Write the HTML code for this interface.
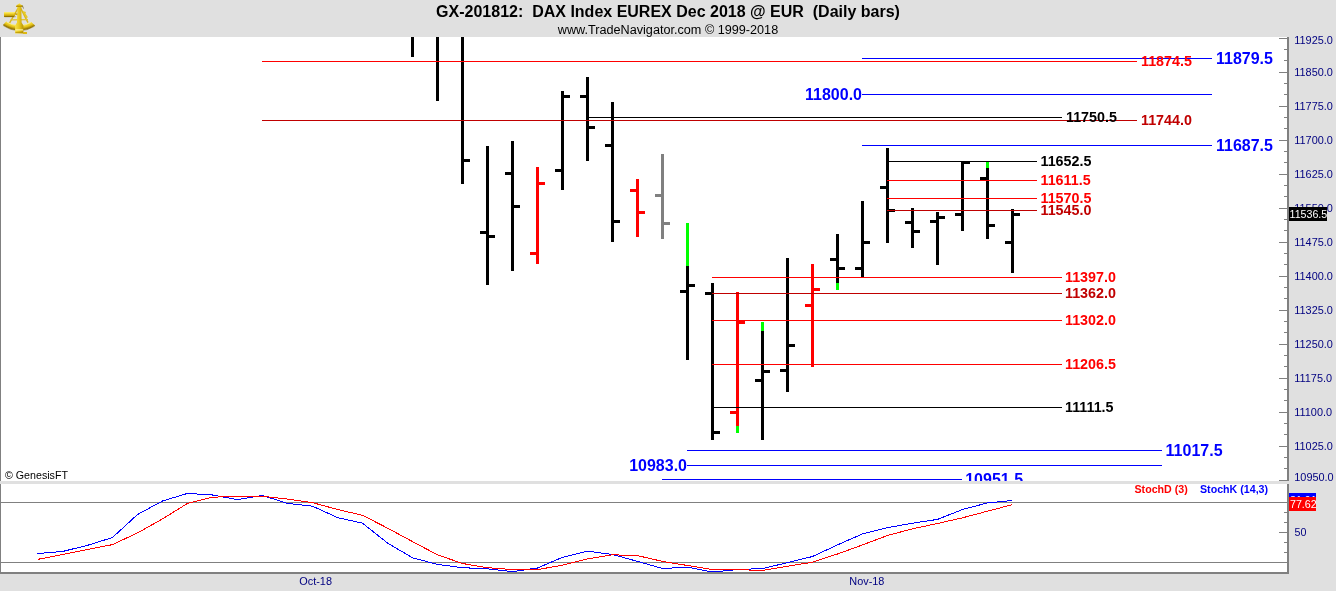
<!DOCTYPE html>
<html><head><meta charset="utf-8"><title>GX-201812: DAX Index EUREX Dec 2018 @ EUR (Daily bars)</title>
<style>
html,body{margin:0;padding:0;background:#e0e0e0;}
body{width:1336px;height:591px;overflow:hidden;}
svg{display:block;font-family:"Liberation Sans",Arial,sans-serif;}
rect{shape-rendering:crispEdges;}
</style></head><body>
<svg width="1336" height="591" viewBox="0 0 1336 591">
<defs><clipPath id="cp"><rect x="0" y="37" width="1287" height="444"/></clipPath></defs>
<rect x="0" y="0" width="1336" height="591" fill="#e0e0e0"/>
<rect x="0" y="37" width="1287" height="444" fill="#ffffff"/>
<rect x="0" y="484" width="1287" height="88" fill="#ffffff"/>
<rect x="0" y="37" width="1" height="444" fill="#808080"/>
<rect x="0" y="484" width="1" height="90" fill="#808080"/>
<rect x="1287" y="37" width="2" height="444" fill="#808080"/>
<rect x="1287" y="484" width="2" height="90" fill="#808080"/>
<rect x="0" y="572" width="1289" height="2" fill="#808080"/>
<g id="paxis">
<rect x="1279" y="38" width="8" height="1" fill="#808080"/>
<rect x="1284" y="49" width="3" height="1" fill="#808080"/>
<rect x="1284" y="60" width="3" height="1" fill="#808080"/>
<rect x="1279" y="72" width="8" height="1" fill="#808080"/>
<rect x="1284" y="83" width="3" height="1" fill="#808080"/>
<rect x="1284" y="94" width="3" height="1" fill="#808080"/>
<rect x="1279" y="106" width="8" height="1" fill="#808080"/>
<rect x="1284" y="117" width="3" height="1" fill="#808080"/>
<rect x="1284" y="128" width="3" height="1" fill="#808080"/>
<rect x="1279" y="140" width="8" height="1" fill="#808080"/>
<rect x="1284" y="151" width="3" height="1" fill="#808080"/>
<rect x="1284" y="162" width="3" height="1" fill="#808080"/>
<rect x="1279" y="174" width="8" height="1" fill="#808080"/>
<rect x="1284" y="185" width="3" height="1" fill="#808080"/>
<rect x="1284" y="196" width="3" height="1" fill="#808080"/>
<rect x="1279" y="208" width="8" height="1" fill="#808080"/>
<rect x="1284" y="219" width="3" height="1" fill="#808080"/>
<rect x="1284" y="230" width="3" height="1" fill="#808080"/>
<rect x="1279" y="242" width="8" height="1" fill="#808080"/>
<rect x="1284" y="253" width="3" height="1" fill="#808080"/>
<rect x="1284" y="264" width="3" height="1" fill="#808080"/>
<rect x="1279" y="276" width="8" height="1" fill="#808080"/>
<rect x="1284" y="287" width="3" height="1" fill="#808080"/>
<rect x="1284" y="298" width="3" height="1" fill="#808080"/>
<rect x="1279" y="310" width="8" height="1" fill="#808080"/>
<rect x="1284" y="321" width="3" height="1" fill="#808080"/>
<rect x="1284" y="332" width="3" height="1" fill="#808080"/>
<rect x="1279" y="344" width="8" height="1" fill="#808080"/>
<rect x="1284" y="355" width="3" height="1" fill="#808080"/>
<rect x="1284" y="366" width="3" height="1" fill="#808080"/>
<rect x="1279" y="378" width="8" height="1" fill="#808080"/>
<rect x="1284" y="389" width="3" height="1" fill="#808080"/>
<rect x="1284" y="400" width="3" height="1" fill="#808080"/>
<rect x="1279" y="412" width="8" height="1" fill="#808080"/>
<rect x="1284" y="423" width="3" height="1" fill="#808080"/>
<rect x="1284" y="434" width="3" height="1" fill="#808080"/>
<rect x="1279" y="446" width="8" height="1" fill="#808080"/>
<rect x="1284" y="457" width="3" height="1" fill="#808080"/>
<rect x="1284" y="468" width="3" height="1" fill="#808080"/>
<rect x="1279" y="480" width="8" height="1" fill="#808080"/>
</g>
<g font-size="10.9" fill="#000080">
<text x="1294.3" y="44.4">11925.0</text>
<text x="1294.3" y="76.4">11850.0</text>
<text x="1294.3" y="110.4">11775.0</text>
<text x="1294.3" y="144.4">11700.0</text>
<text x="1294.3" y="178.4">11625.0</text>
<text x="1294.3" y="212.4">11550.0</text>
<text x="1294.3" y="246.4">11475.0</text>
<text x="1294.3" y="280.4">11400.0</text>
<text x="1294.3" y="314.4">11325.0</text>
<text x="1294.3" y="348.4">11250.0</text>
<text x="1294.3" y="382.4">11175.0</text>
<text x="1294.3" y="416.4">11100.0</text>
<text x="1294.3" y="450.4">11025.0</text>
<text x="1294.3" y="480.6">10950.0</text>
</g>
<g id="bars">
<rect x="411" y="37" width="3" height="20" fill="#000000"/>
<rect x="436" y="37" width="3" height="64" fill="#000000"/>
<rect x="461" y="37" width="3" height="147" fill="#000000"/>
<rect x="464" y="159" width="6" height="3" fill="#000000"/>
<rect x="486" y="146" width="3" height="139" fill="#000000"/>
<rect x="480" y="231" width="6" height="3" fill="#000000"/>
<rect x="489" y="235" width="6" height="3" fill="#000000"/>
<rect x="511" y="141" width="3" height="130" fill="#000000"/>
<rect x="505" y="172" width="6" height="3" fill="#000000"/>
<rect x="514" y="205" width="6" height="3" fill="#000000"/>
<rect x="536" y="167" width="3" height="97" fill="#ff0000"/>
<rect x="530" y="252" width="6" height="3" fill="#ff0000"/>
<rect x="539" y="182" width="6" height="3" fill="#ff0000"/>
<rect x="561" y="91" width="3" height="99" fill="#000000"/>
<rect x="555" y="169" width="6" height="3" fill="#000000"/>
<rect x="564" y="95" width="6" height="3" fill="#000000"/>
<rect x="586" y="77" width="3" height="84" fill="#000000"/>
<rect x="580" y="95" width="6" height="3" fill="#000000"/>
<rect x="589" y="126" width="6" height="3" fill="#000000"/>
<rect x="611" y="102" width="3" height="140" fill="#000000"/>
<rect x="605" y="144" width="6" height="3" fill="#000000"/>
<rect x="614" y="220" width="6" height="3" fill="#000000"/>
<rect x="636" y="179" width="3" height="58" fill="#ff0000"/>
<rect x="630" y="189" width="6" height="3" fill="#ff0000"/>
<rect x="639" y="211" width="6" height="3" fill="#ff0000"/>
<rect x="661" y="154" width="3" height="85" fill="#808080"/>
<rect x="655" y="194" width="6" height="3" fill="#808080"/>
<rect x="664" y="222" width="6" height="3" fill="#808080"/>
<rect x="686" y="223" width="3" height="43" fill="#00ff00"/>
<rect x="686" y="266" width="3" height="94" fill="#000000"/>
<rect x="680" y="290" width="6" height="3" fill="#000000"/>
<rect x="689" y="284" width="6" height="3" fill="#000000"/>
<rect x="711" y="283" width="3" height="157" fill="#000000"/>
<rect x="705" y="292" width="6" height="3" fill="#000000"/>
<rect x="714" y="431" width="6" height="3" fill="#000000"/>
<rect x="736" y="292" width="3" height="134" fill="#ff0000"/>
<rect x="736" y="426" width="3" height="7" fill="#00ff00"/>
<rect x="730" y="411" width="6" height="3" fill="#ff0000"/>
<rect x="739" y="321" width="6" height="3" fill="#ff0000"/>
<rect x="761" y="322" width="3" height="9" fill="#00ff00"/>
<rect x="761" y="331" width="3" height="109" fill="#000000"/>
<rect x="755" y="379" width="6" height="3" fill="#000000"/>
<rect x="764" y="370" width="6" height="3" fill="#000000"/>
<rect x="786" y="258" width="3" height="134" fill="#000000"/>
<rect x="780" y="369" width="6" height="3" fill="#000000"/>
<rect x="789" y="344" width="6" height="3" fill="#000000"/>
<rect x="811" y="264" width="3" height="103" fill="#ff0000"/>
<rect x="805" y="304" width="6" height="3" fill="#ff0000"/>
<rect x="814" y="288" width="6" height="3" fill="#ff0000"/>
<rect x="836" y="234" width="3" height="49" fill="#000000"/>
<rect x="836" y="283" width="3" height="7" fill="#00ff00"/>
<rect x="830" y="258" width="6" height="3" fill="#000000"/>
<rect x="839" y="267" width="6" height="3" fill="#000000"/>
<rect x="861" y="201" width="3" height="76" fill="#000000"/>
<rect x="855" y="267" width="6" height="3" fill="#000000"/>
<rect x="864" y="241" width="6" height="3" fill="#000000"/>
<rect x="886" y="148" width="3" height="95" fill="#000000"/>
<rect x="880" y="186" width="6" height="3" fill="#000000"/>
<rect x="889" y="209" width="6" height="3" fill="#000000"/>
<rect x="911" y="208" width="3" height="40" fill="#000000"/>
<rect x="905" y="221" width="6" height="3" fill="#000000"/>
<rect x="914" y="230" width="6" height="3" fill="#000000"/>
<rect x="936" y="212" width="3" height="53" fill="#000000"/>
<rect x="930" y="220" width="6" height="3" fill="#000000"/>
<rect x="939" y="216" width="6" height="3" fill="#000000"/>
<rect x="961" y="162" width="3" height="69" fill="#000000"/>
<rect x="955" y="213" width="6" height="3" fill="#000000"/>
<rect x="964" y="161" width="6" height="3" fill="#000000"/>
<rect x="986" y="162" width="3" height="6" fill="#00ff00"/>
<rect x="986" y="168" width="3" height="71" fill="#000000"/>
<rect x="980" y="177" width="6" height="3" fill="#000000"/>
<rect x="989" y="224" width="6" height="3" fill="#000000"/>
<rect x="1011" y="209" width="3" height="64" fill="#000000"/>
<rect x="1005" y="241" width="6" height="3" fill="#000000"/>
<rect x="1014" y="213" width="6" height="3" fill="#000000"/>
</g>
<g id="hlines">
<rect x="262" y="61" width="875" height="1" fill="#ff0000"/>
<rect x="262" y="120" width="875" height="1" fill="#c00000"/>
<rect x="588" y="117" width="474" height="1" fill="#000000"/>
<rect x="862" y="58" width="350" height="1" fill="#0000ff"/>
<rect x="862" y="94" width="350" height="1" fill="#0000ff"/>
<rect x="862" y="145" width="350" height="1" fill="#0000ff"/>
<rect x="888" y="161" width="149" height="1" fill="#000000"/>
<rect x="887" y="180" width="150" height="1" fill="#ff0000"/>
<rect x="887" y="198" width="150" height="1" fill="#ff0000"/>
<rect x="887" y="210" width="150" height="1" fill="#c00000"/>
<rect x="712" y="277" width="350" height="1" fill="#ff0000"/>
<rect x="712" y="293" width="350" height="1" fill="#c00000"/>
<rect x="712" y="320" width="350" height="1" fill="#ff0000"/>
<rect x="712" y="364" width="350" height="1" fill="#ff0000"/>
<rect x="712" y="407" width="350" height="1" fill="#000000"/>
<rect x="687" y="450" width="475" height="1" fill="#0000ff"/>
<rect x="687" y="465" width="475" height="1" fill="#0000ff"/>
<rect x="662" y="479" width="300" height="1" fill="#0000ff"/>
</g>
<g font-weight="bold">
<text x="1216" y="64" font-size="16" fill="#0000ff">11879.5</text>
<text x="862" y="100" font-size="16" fill="#0000ff" text-anchor="end">11800.0</text>
<text x="1216" y="151" font-size="16" fill="#0000ff">11687.5</text>
<text x="1165.6" y="456" font-size="16" fill="#0000ff">11017.5</text>
<text x="687" y="471" font-size="16" fill="#0000ff" text-anchor="end">10983.0</text>
<g clip-path="url(#cp)">
<text x="965.2" y="485" font-size="16" fill="#0000ff">10951.5</text>
</g>
<text x="1141" y="66" font-size="14.3" fill="#ff0000">11874.5</text>
<text x="1141" y="125" font-size="14.3" fill="#c00000">11744.0</text>
<text x="1066" y="122" font-size="14.3" fill="#000000">11750.5</text>
<text x="1040.5" y="166" font-size="14.3" fill="#000000">11652.5</text>
<text x="1040.5" y="185" font-size="14.3" fill="#ff0000">11611.5</text>
<text x="1040.5" y="203" font-size="14.3" fill="#ff0000">11570.5</text>
<text x="1040.5" y="215" font-size="14.3" fill="#c00000">11545.0</text>
<text x="1065" y="282" font-size="14.3" fill="#ff0000">11397.0</text>
<text x="1065" y="298" font-size="14.3" fill="#c00000">11362.0</text>
<text x="1065" y="325" font-size="14.3" fill="#ff0000">11302.0</text>
<text x="1065" y="369" font-size="14.3" fill="#ff0000">11206.5</text>
<text x="1065" y="412" font-size="14.3" fill="#000000">11111.5</text>
</g>
<rect x="1289" y="207" width="38" height="14" fill="#000000"/>
<text x="1289.5" y="217.72" font-size="10.67" fill="#ffffff">11536.5</text>
<text x="5" y="479" font-size="10.67" fill="#000000">© GenesisFT</text>
<rect x="0" y="502" width="1287" height="1" fill="#808080"/>
<rect x="0" y="562" width="1287" height="1" fill="#808080"/>
<rect x="1284" y="512" width="3" height="1" fill="#808080"/>
<rect x="1284" y="522" width="3" height="1" fill="#808080"/>
<rect x="1279" y="532" width="8" height="1" fill="#808080"/>
<rect x="1284" y="542" width="3" height="1" fill="#808080"/>
<rect x="1284" y="552" width="3" height="1" fill="#808080"/>
<text x="1294.5" y="536" font-size="10.67" fill="#000080">50</text>
<polyline points="37.5,553.5 62.5,551.5 87.5,545.3 112.5,537.5 137.5,514.5 162.5,501 187.5,493.4 212.5,495 237.5,499.6 262.5,495.5 287.5,503.4 312.5,506.2 337.5,517.6 362.5,523.2 387.5,543 412.5,557.8 437.5,564.4 462.5,567.7 487.5,568.8 512.5,571.6 537.5,568 562.5,557.3 587.5,551.2 612.5,554.5 637.5,561.4 662.5,568.5 687.5,567.2 712.5,572 737.5,569.6 762.5,568.5 787.5,562.7 812.5,556.5 837.5,544.9 862.5,533.9 887.5,527.6 912.5,523.2 937.5,519.4 962.5,509.5 987.5,502.9 1012.5,500.5" fill="none" stroke="#0000ff" stroke-width="1" shape-rendering="crispEdges"/>
<polyline points="37.5,559.4 62.5,554.5 87.5,549.5 112.5,544.6 137.5,532.9 162.5,518.9 187.5,503.4 212.5,497.2 237.5,496.3 262.5,496.3 287.5,499.1 312.5,502.6 337.5,509.5 362.5,515.3 387.5,528.1 412.5,541.6 437.5,554.8 462.5,563.5 487.5,567.7 512.5,569.6 537.5,569.6 562.5,565.2 587.5,558.9 612.5,554.8 637.5,555.6 662.5,561.4 687.5,565.5 712.5,569.6 737.5,569.6 762.5,570.5 787.5,566.3 812.5,562.2 837.5,554 862.5,544.9 887.5,535.5 912.5,528.8 937.5,523.5 962.5,517.8 987.5,511.2 1012.5,504.6" fill="none" stroke="#ff0000" stroke-width="1" shape-rendering="crispEdges"/>
<g font-weight="bold">
<text x="1134.5" y="493" font-size="10.67" fill="#ff0000">StochD (3)</text>
<text x="1200" y="493" font-size="10.67" fill="#0000ff">StochK (14,3)</text>
</g>
<rect x="1289" y="493" width="27" height="14" fill="#0000ff"/>
<text x="1290" y="503.5" font-size="10.67" fill="#ffffff">81.91</text>
<rect x="1289" y="497" width="27" height="14" fill="#ff0000"/>
<text x="1290" y="507.8" font-size="10.67" fill="#ffffff">77.62</text>
<text x="299.3" y="585" font-size="10.9" fill="#000080">Oct-18</text>
<text x="849.3" y="585" font-size="10.9" fill="#000080">Nov-18</text>
<text x="668" y="17" font-size="16" font-weight="bold" text-anchor="middle" fill="#000" xml:space="preserve" style="white-space:pre">GX-201812:  DAX Index EUREX Dec 2018 @ EUR  (Daily bars)</text>
<text x="668" y="33.7" font-size="12.65" text-anchor="middle" fill="#000">www.TradeNavigator.com © 1999-2018</text>
<g id="logo">
<defs>
<linearGradient id="gv" x1="0" y1="0" x2="0" y2="1"><stop offset="0" stop-color="#fff27a"/><stop offset="0.45" stop-color="#edcc1e"/><stop offset="1" stop-color="#a88400"/></linearGradient>
<linearGradient id="gh" x1="0" y1="0" x2="1" y2="0"><stop offset="0" stop-color="#f6e04a"/><stop offset="0.5" stop-color="#e8c81c"/><stop offset="1" stop-color="#b89408"/></linearGradient>
<radialGradient id="ga" cx="19.5" cy="0.5" r="30" gradientUnits="userSpaceOnUse"><stop offset="0.76" stop-color="#c9a20a"/><stop offset="0.83" stop-color="#f4dc3c"/><stop offset="0.9" stop-color="#e6c41a"/><stop offset="0.97" stop-color="#9a7a02"/></radialGradient>
</defs>
<path d="M18.2,8 L9.6,23 M20.6,8 L28,22.6" stroke="#d8b61c" stroke-width="1.5" fill="none"/>
<path d="M10.5,19.8 L28,19.6" stroke="#e2c42c" stroke-width="1.2" fill="none"/>
<path d="M23.2,11.5 L27.2,17.8 M25.2,11.8 L24.2,15.2" stroke="#e6c824" stroke-width="1.6" fill="none"/>
<path d="M2.9,25.1 A27.9,27.9 0 0 0 35.1,25.6 L31.2,22 A23.4,23.4 0 0 1 6.3,21.6 Z" fill="url(#ga)"/>
<path d="M3.3,25.6 A27.9,27.9 0 0 0 34.6,26.2" stroke="#7c6200" stroke-width="0.7" fill="none" opacity="0.75"/>
<path d="M6.6,22 A23.4,23.4 0 0 0 31,22.4" stroke="#fff59a" stroke-width="0.8" fill="none" opacity="0.9"/>
<path d="M17.4,6.8 L21.3,6.8 L21.6,22.5 L23.4,25.6 L23.4,33.6 L15.1,33.6 L15.1,25.6 L17,22.5 Z" fill="url(#gh)"/>
<path d="M15.9,6.9 Q16.2,4.6 18.4,4.3 L19.3,2.9 L20.3,4.3 Q22.6,4.8 22.8,7 Z" fill="url(#gv)"/>
<path d="M22.2,5.2 L23.6,8.6" stroke="#5a4600" stroke-width="0.8" opacity="0.7"/>
<path d="M15.4,29.9 L23.2,29.9" stroke="#fff6a8" stroke-width="1.1"/>
<path d="M15.4,32.4 L23.2,32.4" stroke="#b08c06" stroke-width="0.8"/>
<rect x="23.3" y="32.4" width="3.8" height="2" fill="#dcb814"/>
<rect x="4.1" y="12" width="10.6" height="4.7" rx="0.8" fill="url(#gv)"/>
<path d="M4.4,16.7 L15.6,16.7" stroke="#6e5600" stroke-width="0.7" opacity="0.8"/>
<path d="M14.6,13.6 L17.4,14.6" stroke="#caa410" stroke-width="1.6"/>
</g>
</svg>
</body></html>
